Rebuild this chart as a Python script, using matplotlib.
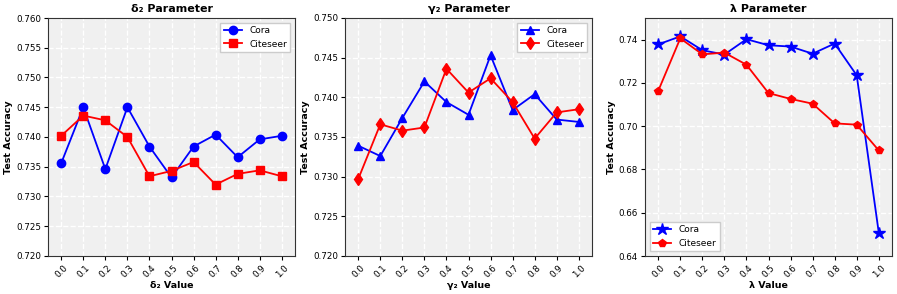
import matplotlib
matplotlib.use("Agg")
from matplotlib import pyplot as plt

x_vals = [0.0, 0.1, 0.2, 0.3, 0.4, 0.5, 0.6, 0.7, 0.8, 0.9, 1.0]
x_labels = ["0.0", "0.1", "0.2", "0.3", "0.4", "0.5", "0.6", "0.7", "0.8", "0.9", "1.0"]

delta_cora = [0.7356, 0.7450, 0.7346, 0.7450, 0.7384, 0.7332, 0.7384, 0.7404, 0.7366, 0.7396, 0.7402]
delta_citeseer = [0.7402, 0.7436, 0.7428, 0.7400, 0.7334, 0.7343, 0.7358, 0.7320, 0.7338, 0.7344, 0.7334]

gamma_cora = [0.7339, 0.7326, 0.7374, 0.7420, 0.7394, 0.7378, 0.7453, 0.7384, 0.7404, 0.7372, 0.7369]
gamma_citeseer = [0.7297, 0.7366, 0.7358, 0.7362, 0.7436, 0.7406, 0.7424, 0.7394, 0.7348, 0.7381, 0.7385]

lambda_cora = [0.7378, 0.7415, 0.7351, 0.7331, 0.7402, 0.7374, 0.7368, 0.7335, 0.7382, 0.7235, 0.6508]
lambda_citeseer = [0.7163, 0.7406, 0.7332, 0.7340, 0.7284, 0.7153, 0.7126, 0.7104, 0.7013, 0.7007, 0.6888]

delta_ticks = [0.720, 0.725, 0.730, 0.735, 0.740, 0.745, 0.750, 0.755, 0.760]
gamma_ticks = [0.720, 0.725, 0.730, 0.735, 0.740, 0.745, 0.750]
lambda_ticks = [0.64, 0.66, 0.68, 0.70, 0.72, 0.74]

panels = [
    ("δ₂ Parameter", "δ₂ Value", delta_cora, delta_citeseer, "o", "s", (0.72, 0.76), delta_ticks, "%.3f", "upper right"),
    ("γ₂ Parameter", "γ₂ Value", gamma_cora, gamma_citeseer, "^", "d", (0.72, 0.75), gamma_ticks, "%.3f", "upper right"),
    ("λ Parameter", "λ Value", lambda_cora, lambda_citeseer, "*", "p", (0.64, 0.75), lambda_ticks, "%.2f", "lower left"),
]
lefts = [48 / 897, 345 / 897, 645 / 897]
ax_w = 247 / 897
ax_b = 38 / 294
ax_h = 238 / 294

fig = plt.figure(figsize=(8.97, 2.94), dpi=100)
for i, (title, xlabel, cora, cite, m1, m2, ylim, ticks, fmt, loc) in enumerate(panels):
    ax = fig.add_axes([lefts[i], ax_b, ax_w, ax_h])
    ax.set_facecolor("#f0f0f0")
    ax.grid(True, color="white", linestyle="--", linewidth=1.0)
    ax.set_axisbelow(True)
    ms1 = 9 if m1 == "*" else 6
    ax.plot(x_vals, cora, color="blue", marker=m1, markersize=ms1, linewidth=1.3, label="Cora")
    ax.plot(x_vals, cite, color="red", marker=m2, markersize=6, linewidth=1.3, label="Citeseer")
    ax.set_ylim(*ylim)
    ax.set_yticks(ticks)
    ax.set_yticklabels([fmt % v for v in ticks])
    ax.set_xlim(-0.06, 1.06)
    ax.set_xticks(x_vals)
    ax.set_xticklabels(x_labels, rotation=45)
    ax.tick_params(labelsize=6.3, length=3, pad=2)
    ax.set_title(title, fontsize=8, fontweight="bold", pad=4)
    ax.set_xlabel(xlabel, fontsize=6.8, fontweight="bold", labelpad=1)
    ax.set_ylabel("Test Accuracy", fontsize=6.8, fontweight="bold", labelpad=2)
    ax.legend(loc=loc, fontsize=6.5, framealpha=1.0, edgecolor="#cccccc", fancybox=False)
    for s in ax.spines.values():
        s.set_color("#333333")

fig.savefig("out.png", dpi=100)
